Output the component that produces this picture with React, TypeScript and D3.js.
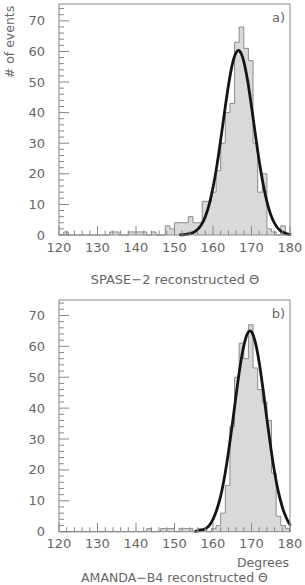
import * as d3 from "d3";

// histogram: 50 bins of 1.2 deg between 120 and 180
const X_MIN = 120;
const X_MAX = 180;
const BIN_W = 1.2;

const spaseCounts = [
  0, 1, 0, 0, 0, 0, 0, 0, 0, 0,
  0, 1, 1, 0, 0, 1, 1, 1, 1, 0,
  1, 0, 0, 3, 2, 4, 4, 4, 6, 4,
  4, 11, 11, 14, 21, 30, 40, 43, 63, 68,
  61, 57, 30, 14, 20, 2, 1, 0, 3, 0,
];

const amandaCounts = [
  0, 0, 0, 0, 0, 0, 0, 0, 0, 0,
  0, 0, 0, 0, 0, 0, 0, 0, 0, 1,
  0, 0, 1, 1, 1, 0, 1, 1, 1, 0,
  1, 1, 0, 1, 2, 6, 15, 34, 50, 61,
  56, 67, 53, 46, 42, 36, 19, 5, 2, 1,
];

// gaussian fit curves
const spaseFitDeg = [151.5, 152, 153, 154, 155, 156, 157, 158, 159, 160, 161, 162, 163, 164, 165, 166, 166.6,
  167, 168, 169, 170, 171, 172, 173, 174, 175, 176, 177, 178, 179, 180];
const spaseFitVal = [0.05, 0.08, 0.19, 0.42, 0.9, 1.8, 3.4, 6.0, 9.9, 15.5, 22.6, 31.1, 40.2, 48.8, 55.7, 59.6, 60.3,
  60.0, 56.7, 50.4, 42.0, 32.9, 24.2, 16.8, 10.9, 6.6, 3.8, 2.0, 1.0, 0.5, 0.2];

const amandaFitDeg = [155.5, 156, 157, 158, 159, 160, 161, 162, 163, 164, 165, 166, 167, 168, 169, 169.6,
  170, 171, 172, 173, 174, 175, 176, 177, 178, 179, 180];
const amandaFitVal = [0.15, 0.25, 0.5, 1.0, 2.0, 4.0, 7.2, 11.6, 17.8, 25.6, 34.6, 44.2, 53.2, 60.2, 64.3, 65.0,
  64.7, 61.3, 54.8, 46.1, 36.5, 27.3, 19.2, 12.8, 8.0, 4.6, 2.2];

const yTickLabels = [0, 10, 20, 30, 40, 50, 60, 70];
const xTickLabels = [120, 130, 140, 150, 160, 170, 180];

const FONT = "DejaVu Sans, sans-serif";
const TXT = "#666";
const AXIS = "#888";

type PanelProps = {
  top: number;
  bottom: number;
  yMax: number;
  counts: number[];
  fitDeg: number[];
  fitVal: number[];
  tag: string;
};

const left = 59;
const right = 290;

function Panel({top, bottom, yMax, counts, fitDeg, fitVal, tag}: PanelProps) {
  const x = d3.scaleLinear().domain([X_MIN, X_MAX]).range([left, right]);
  const y = d3.scaleLinear().domain([0, yMax]).range([bottom, top]);

  const steps: [number, number][] = [[X_MIN, 0]];
  counts.forEach((c, i) => steps.push([X_MIN + i * BIN_W, c]));
  steps.push([X_MAX, counts[counts.length - 1]]);
  steps.push([X_MAX, 0]);

  const area = d3.area<[number, number]>()
    .x(d => x(d[0]))
    .y0(y(0))
    .y1(d => y(d[1]))
    .curve(d3.curveStepAfter);
  const outline = d3.line<[number, number]>()
    .x(d => x(d[0]))
    .y(d => y(d[1]))
    .curve(d3.curveStepAfter);
  const fit = d3.line<number>()
    .x(d => x(d))
    .y((d, i) => y(fitVal[i]))
    .curve(d3.curveMonotoneX);

  const yMinor = d3.range(0, yMax, 2);
  const xMinor = d3.range(X_MIN, X_MAX + 1, 2);

  return (
    <g>
      <path d={area(steps) || ""} fill="#d9d9d9" stroke="none"/>
      <path d={outline(steps) || ""} fill="none" stroke="#8c8c8c" strokeWidth={1}/>
      <path d={fit(fitDeg) || ""} fill="none" stroke="#151515" strokeWidth={2.8}
            strokeLinejoin="round" strokeLinecap="round"/>
      <rect x={left} y={top} width={right - left} height={bottom - top}
            fill="none" stroke={AXIS} strokeWidth={1}/>
      {yMinor.map(v => (
        <line key={"y" + v} x1={left} x2={left + (v % 10 === 0 ? 10 : 5)}
              y1={y(v)} y2={y(v)} stroke={AXIS} strokeWidth={1}/>
      ))}
      {xMinor.map(v => (
        <line key={"x" + v} x1={x(v)} x2={x(v)} y1={bottom}
              y2={bottom - (v % 10 === 0 ? 9 : 4.5)} stroke={AXIS} strokeWidth={1}/>
      ))}
      {yTickLabels.map(v => (
        <text key={"yl" + v} x={45} y={y(v)} textAnchor="end" dominantBaseline="central"
              fontFamily={FONT} fontSize={13} fill={TXT}>{v}</text>
      ))}
      {xTickLabels.map(v => (
        <text key={"xl" + v} x={x(v)} y={bottom + 12} textAnchor="middle" dominantBaseline="central"
              fontFamily={FONT} fontSize={13} fill={TXT}>{v}</text>
      ))}
      <text x={285} y={top + 13} textAnchor="end" dominantBaseline="central"
            fontFamily={FONT} fontSize={13} fill={TXT}>{tag}</text>
    </g>
  );
}

export default function App() {
  return (
    <svg width={305} height={585} style={{position: "absolute", left: 0, top: 0, background: "#fff"}}>
      <Panel top={4} bottom={235} yMax={75.5} counts={spaseCounts}
             fitDeg={spaseFitDeg} fitVal={spaseFitVal} tag="a)"/>
      <Panel top={300} bottom={531.7} yMax={75} counts={amandaCounts}
             fitDeg={amandaFitDeg} fitVal={amandaFitVal} tag="b)"/>
      <text transform="translate(9,42) rotate(-90)" textAnchor="middle" dominantBaseline="central"
            fontFamily={FONT} fontSize={12.5} fill={TXT}># of events</text>
      <text x={175} y={279} textAnchor="middle" dominantBaseline="central"
            fontFamily={FONT} fontSize={13} fill={TXT}>SPASE−2 reconstructed Θ</text>
      <text x={289} y={562} textAnchor="end" dominantBaseline="central"
            fontFamily={FONT} fontSize={12.5} fill={TXT}>Degrees</text>
      <text x={174.5} y={577.5} textAnchor="middle" dominantBaseline="central"
            fontFamily={FONT} fontSize={12.5} fill={TXT}>AMANDA−B4 reconstructed Θ</text>
    </svg>
  );
}
